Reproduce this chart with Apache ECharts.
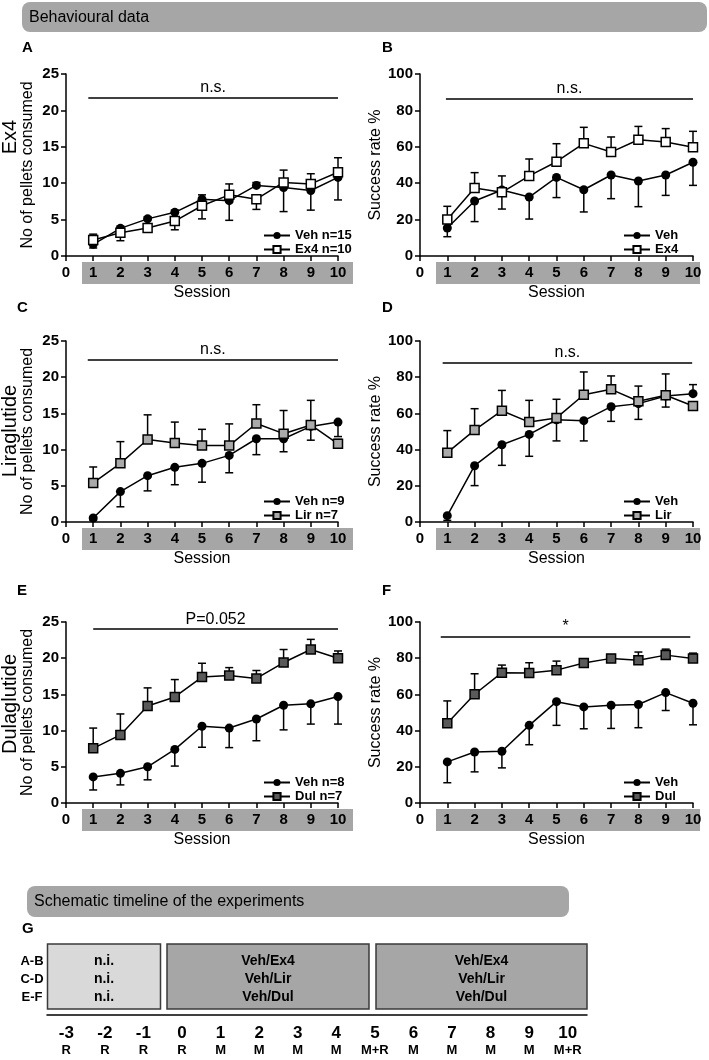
<!DOCTYPE html>
<html>
<head>
<meta charset="utf-8">
<script src="https://cdn.jsdelivr.net/npm/echarts@6/dist/echarts.min.js"></script>
<style>
html, body { margin: 0; padding: 0; background: #fff; }
#main { width: 709px; height: 1060px; }
</style>
</head>
<body>
<div id="main"></div>
<script>
// sessions 1..10
var sessions = [1, 2, 3, 4, 5, 6, 7, 8, 9, 10];

// A / B : Ex4
var exVehPel = [1.6, 3.8, 5.1, 6.0, 7.8, 7.6, 9.7, 9.4, 9.0, 10.8];
var exVehPelErr = [-0.5, 0.3, 0.3, 0.3, 0.6, -2.7, 0.4, -3.3, -2.7, -3.1];
var exDrugPel = [2.2, 3.2, 3.85, 4.8, 6.9, 8.4, 7.8, 10.1, 9.9, 11.5];
var exDrugPelErr = [0.8, -1.1, -0.5, -1.2, -1.8, 1.5, -1.4, 1.7, 1.4, 2.0];
var exVehSr = [15.4, 30.2, 36.3, 32.4, 43.2, 36.4, 44.5, 41.2, 44.5, 51.5];
var exVehSrErr = [-4.8, -11.3, -10.5, -12.1, -11.1, -12.2, -13.0, -14.1, -11.2, -12.7];
var exDrugSr = [20.1, 37.4, 35.0, 44.0, 51.8, 61.9, 57.1, 63.9, 62.6, 59.7];
var exDrugSrErr = [7.2, 8.4, 9.0, 9.3, 9.9, 8.8, 8.3, 7.3, 7.4, 8.8];

// C / D : Liraglutide
var lirVehPel = [0.55, 4.2, 6.4, 7.55, 8.1, 9.2, 11.5, 11.5, 13.2, 13.8];
var lirVehPelErr = [-0.3, -2.1, -2.1, -2.4, -2.6, -2.4, -2.2, -1.8, -1.9, -2.0];
var lirDrugPel = [5.4, 8.1, 11.4, 10.9, 10.55, 10.55, 13.6, 12.2, 13.4, 10.8];
var lirDrugPelErr = [2.2, 3.0, 3.4, 2.9, 2.25, 3.0, 2.6, 3.2, 3.4, 0.6];
var lirVehSr = [3.5, 31.1, 42.7, 48.4, 56.5, 56.0, 63.7, 65.4, 69.6, 70.9];
var lirVehSrErr = [-2.6, -11.0, -11.4, -12.1, -11.7, -11.2, -8.1, -8.7, -6.1, 5.0];
var lirDrugSr = [38.3, 50.8, 61.5, 55.2, 57.5, 70.3, 73.3, 66.7, 70.0, 64.1];
var lirDrugSrErr = [12.2, 11.8, 11.2, 12.0, 10.3, 12.6, 7.4, 8.4, 11.8, -1.0];

// E / F : Dulaglutide
var dulVehPel = [3.6, 4.1, 5.0, 7.4, 10.6, 10.35, 11.6, 13.5, 13.7, 14.7];
var dulVehPelErr = [-1.8, -1.6, -1.8, -2.3, -2.9, -2.7, -3.0, -3.4, -2.8, -3.8];
var dulDrugPel = [7.55, 9.4, 13.4, 14.65, 17.4, 17.6, 17.2, 19.4, 21.2, 20.0];
var dulDrugPelErr = [2.8, 2.9, 2.5, 2.4, 1.9, 1.1, 1.1, 1.8, 1.4, 1.0];
var dulVehSr = [22.7, 28.2, 28.6, 42.9, 56.0, 53.1, 54.0, 54.4, 61.0, 55.1];
var dulVehSrErr = [-11.5, -11.0, -9.2, -10.7, -13.1, -12.1, -12.8, -12.8, -9.9, -11.9];
var dulDrugSr = [44.0, 60.1, 72.0, 71.8, 73.4, 77.3, 79.9, 78.9, 81.7, 79.9];
var dulDrugSrErr = [12.4, 11.3, 4.2, 5.7, 5.0, 2.0, 2.0, 4.5, 3.3, 2.9];

// significance bars (A..F)
var sigText = ['n.s.', 'n.s.', 'n.s.', 'n.s.', 'P=0.052', '*'];
var sigLevel = [21.8, 86.6, 22.4, 87.8, 24.0, 91.9];
var sigFrom = [0.82, 0.95, 0.8, 0.83, 1.0, 0.76];
var sigTo = [10, 10, 10, 9.97, 10, 9.9];

// timeline (G)
var tlDays = ['-3', '-2', '-1', '0', '1', '2', '3', '4', '5', '6', '7', '8', '9', '10'];
var tlType = ['R', 'R', 'R', 'R', 'M', 'M', 'M', 'M', 'M+R', 'M', 'M', 'M', 'M', 'M+R'];
var tlRows = ['A-B', 'C-D', 'E-F'];
var tlPre = ['n.i.', 'n.i.', 'n.i.'];
var tlTreat = ['Veh/Ex4', 'Veh/Lir', 'Veh/Dul'];

var FONT = '"Liberation Sans", Arial, sans-serif';
var chart = echarts.init(document.getElementById('main'));

var colLeft = [66, 420], colWidth = [272, 273];
var rowTop = [74, 341, 622], rowHeight = [182, 181, 181];

var panels = [
    {letter: 'A', max: 25, step: 5, yName: 'No of pellets consumed', veh: exVehPel, vehErr: exVehPelErr, drug: exDrugPel, drugErr: exDrugPelErr, vehName: 'Veh n=15', drugName: 'Ex4 n=10', fill: '#ffffff'},
    {letter: 'B', max: 100, step: 20, yName: 'Success rate %', veh: exVehSr, vehErr: exVehSrErr, drug: exDrugSr, drugErr: exDrugSrErr, vehName: 'Veh', drugName: 'Ex4', fill: '#ffffff'},
    {letter: 'C', max: 25, step: 5, yName: 'No of pellets consumed', veh: lirVehPel, vehErr: lirVehPelErr, drug: lirDrugPel, drugErr: lirDrugPelErr, vehName: 'Veh n=9', drugName: 'Lir n=7', fill: '#aaaaaa'},
    {letter: 'D', max: 100, step: 20, yName: 'Success rate %', veh: lirVehSr, vehErr: lirVehSrErr, drug: lirDrugSr, drugErr: lirDrugSrErr, vehName: 'Veh', drugName: 'Lir', fill: '#aaaaaa'},
    {letter: 'E', max: 25, step: 5, yName: 'No of pellets consumed', veh: dulVehPel, vehErr: dulVehPelErr, drug: dulDrugPel, drugErr: dulDrugPelErr, vehName: 'Veh n=8', drugName: 'Dul n=7', fill: '#5a5a5a'},
    {letter: 'F', max: 100, step: 20, yName: 'Success rate %', veh: dulVehSr, vehErr: dulVehSrErr, drug: dulDrugSr, drugErr: dulDrugSrErr, vehName: 'Veh', drugName: 'Dul', fill: '#5a5a5a'}
];

function errBar(params, api) {
    var x = api.value(0), y = api.value(1), e = api.value(2);
    var p = api.coord([x, y]);
    var q = api.coord([x, y + e]);
    var st = {stroke: '#000', lineWidth: 1.5};
    return {type: 'group', children: [
        {type: 'line', shape: {x1: p[0], y1: p[1], x2: q[0], y2: q[1]}, style: st},
        {type: 'line', shape: {x1: q[0] - 4, y1: q[1], x2: q[0] + 4, y2: q[1]}, style: st}
    ]};
}

function pts(vals, errs) {
    return sessions.map(function (s, i) { return errs ? [s, vals[i], errs[i]] : [s, vals[i]]; });
}

var grids = [], xAxes = [], yAxes = [], series = [], legends = [], graphics = [];

panels.forEach(function (p, k) {
    var col = k % 2, row = Math.floor(k / 2);
    var left = colLeft[col], top = rowTop[row], w = colWidth[col], h = rowHeight[row];
    grids.push({left: left, top: top, width: w, height: h, outerBoundsMode: 'none', containLabel: false});
    xAxes.push({
        gridIndex: k, type: 'value', min: 0, max: 10, interval: 1,
        axisLine: {show: true, lineStyle: {color: '#000', width: 1.5}},
        axisTick: {show: true, length: 5, lineStyle: {color: '#000', width: 1.5}},
        axisLabel: {color: '#000', fontWeight: 'bold', fontSize: 15, fontFamily: FONT, margin: 9},
        splitLine: {show: false},
        name: 'Session', nameLocation: 'middle', nameGap: 29,
        nameTextStyle: {color: '#000', fontSize: 16, fontFamily: FONT}
    });
    yAxes.push({
        gridIndex: k, type: 'value', min: 0, max: p.max, interval: p.step,
        axisLine: {show: true, lineStyle: {color: '#000', width: 1.5}},
        axisTick: {show: true, length: 5, lineStyle: {color: '#000', width: 1.5}},
        axisLabel: {color: '#000', fontWeight: 'bold', fontSize: 15, fontFamily: FONT, margin: 7},
        splitLine: {show: false},
        name: p.yName, nameLocation: 'middle', nameGap: 30, nameRotate: 90,
        nameTextStyle: {color: '#000', fontSize: 16, fontFamily: FONT}
    });
    // error bars
    series.push({type: 'custom', name: 'errV' + k, xAxisIndex: k, yAxisIndex: k, z: 1, silent: true,
        renderItem: errBar, data: pts(p.veh, p.vehErr), encode: {x: 0, y: 1}});
    series.push({type: 'custom', name: 'errD' + k, xAxisIndex: k, yAxisIndex: k, z: 1, silent: true,
        renderItem: errBar, data: pts(p.drug, p.drugErr), encode: {x: 0, y: 1}});
    series.push({
        type: 'line', name: p.vehName, xAxisIndex: k, yAxisIndex: k, z: 3,
        data: pts(p.veh), color: '#000', symbol: 'circle', symbolSize: 9,
        lineStyle: {color: '#000', width: 1.5}, itemStyle: {color: '#000'}, animation: false
    });
    series.push({
        type: 'line', name: p.drugName, xAxisIndex: k, yAxisIndex: k, z: 4,
        data: pts(p.drug), color: '#000', symbol: 'rect', symbolSize: 9,
        lineStyle: {color: '#000', width: 1.5},
        itemStyle: {color: p.fill, borderColor: '#000', borderWidth: 1.5}, animation: false,
        markLine: {
            silent: true, animation: false, symbol: ['none', 'none'],
            lineStyle: {color: '#000', width: 1.5, type: 'solid'},
            label: {show: true, position: 'insideMiddleTop', distance: 2, formatter: sigText[k],
                color: '#000', fontSize: 16, fontFamily: FONT},
            data: [[{coord: [sigFrom[k], sigLevel[k]]}, {coord: [sigTo[k], sigLevel[k]]}]]
        }
    });
    legends.push({
        data: [p.vehName, p.drugName], orient: 'vertical', left: left + (col ? 198 : 192), top: top + h - 32,
        itemWidth: 26, itemHeight: 9, itemGap: 1, selectedMode: false,
        textStyle: {color: '#000', fontWeight: 'bold', fontSize: 13, fontFamily: FONT}
    });
    // grey band behind session labels
    graphics.push({type: 'rect', z: -1, shape: {x: left + 16, y: top + h + 6, width: w - 1 + (col ? -8 : 0), height: 22},
        style: {fill: '#a6a6a6'}});
    graphics.push({type: 'text', x: col ? 382 : (row === 0 ? 22 : 17), y: top - (row === 0 ? 26 : (row === 1 ? 33 : 31)),
        style: {text: p.letter, font: 'bold 15px ' + FONT, fill: '#000', verticalAlign: 'middle'}});
});

// drug group labels on the left
[['Ex4', 137], ['Liraglutide', 431], ['Dulaglutide', 704]].forEach(function (g) {
    graphics.push({type: 'text', x: 10, y: g[1], rotation: Math.PI / 2,
        style: {text: g[0], font: '20px ' + FONT, fill: '#000', align: 'center', verticalAlign: 'middle'}});
});

// section headers
graphics.push({type: 'rect', shape: {x: 22, y: 2, width: 685, height: 30, r: 8}, style: {fill: '#a6a6a6'}});
graphics.push({type: 'text', x: 29, y: 18, style: {text: 'Behavioural data', font: '16px ' + FONT, fill: '#000', verticalAlign: 'middle'}});
graphics.push({type: 'rect', shape: {x: 27, y: 886, width: 542, height: 31, r: 8}, style: {fill: '#a6a6a6'}});
graphics.push({type: 'text', x: 34, y: 902, style: {text: 'Schematic timeline of the experiments', font: '16px ' + FONT, fill: '#000', verticalAlign: 'middle'}});
graphics.push({type: 'text', x: 22, y: 929, style: {text: 'G', font: 'bold 15px ' + FONT, fill: '#000', verticalAlign: 'middle'}});

// timeline boxes
var boxes = [[47.5, 113, '#d9d9d9', tlPre], [167, 202, '#a6a6a6', tlTreat], [376, 211, '#a6a6a6', tlTreat]];
boxes.forEach(function (b) {
    graphics.push({type: 'rect', shape: {x: b[0], y: 944, width: b[1], height: 65},
        style: {fill: b[2], stroke: '#3a3a3a', lineWidth: 1.5}});
    b[3].forEach(function (t, i) {
        graphics.push({type: 'text', x: b[0] + b[1] / 2, y: 961 + i * 18,
            style: {text: t, font: 'bold 14px ' + FONT, fill: '#000', align: 'center', verticalAlign: 'middle'}});
    });
});
tlRows.forEach(function (t, i) {
    graphics.push({type: 'text', x: 32, y: 961 + i * 18,
        style: {text: t, font: 'bold 13px ' + FONT, fill: '#000', align: 'center', verticalAlign: 'middle'}});
});

grids.push({left: 47, top: 944, width: 540, height: 71, outerBoundsMode: 'none', containLabel: false});
xAxes.push({
    gridIndex: 6, type: 'category', data: tlDays, boundaryGap: true,
    axisLine: {show: true, lineStyle: {color: '#000', width: 1.5}},
    axisTick: {show: false},
    axisLabel: {
        interval: 0, margin: 9, color: '#000',
        formatter: function (v, i) { return '{d|' + v + '}\n{t|' + tlType[i] + '}'; },
        rich: {
            d: {fontSize: 17, fontWeight: 'bold', lineHeight: 18, fontFamily: FONT, color: '#000'},
            t: {fontSize: 13, fontWeight: 'bold', lineHeight: 17, fontFamily: FONT, color: '#000'}
        }
    }
});
yAxes.push({gridIndex: 6, type: 'value', show: false, min: 0, max: 1});

chart.setOption({
    animation: false,
    backgroundColor: '#fff',
    grid: grids,
    xAxis: xAxes,
    yAxis: yAxes,
    legend: legends,
    series: series,
    graphic: {elements: graphics}
});
</script>
</body>
</html>
